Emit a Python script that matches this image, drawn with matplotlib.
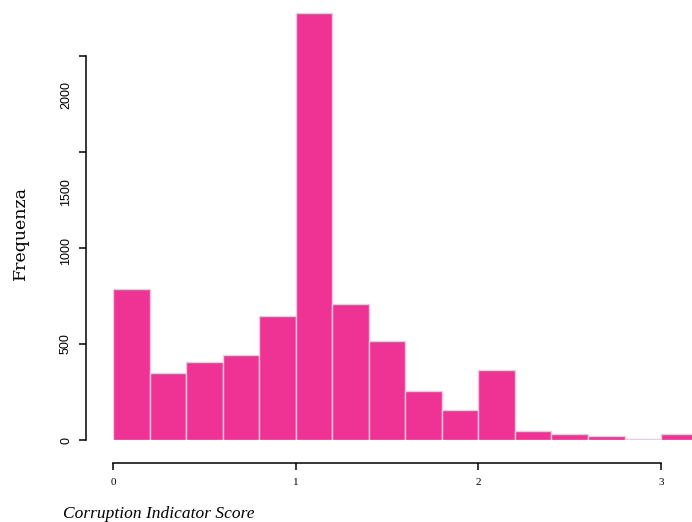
import numpy as np
import matplotlib.pyplot as plt
import matplotlib.transforms as mtransforms

# histogram data
bin_edges = [0.0, 0.2, 0.4, 0.6, 0.8, 1.0, 1.2, 1.4, 1.6, 1.8, 2.0, 2.2, 2.4, 2.6, 2.8, 3.0, 3.2]
counts = [786, 349, 406, 443, 646, 2224, 708, 516, 255, 156, 365, 48, 31, 19, 3, 31]
x_ticks = [0, 1, 2, 3]
y_ticks = [0, 500, 1000, 1500, 2000]

W, H = 692, 522
fig = plt.figure(figsize=(W / 100, H / 100), dpi=100)

# axes box in pixels: left 113, right 692, top 0, bottom 440
ax = fig.add_axes([113 / W, (H - 440) / H, (692 - 113) / W, 440 / H])

edges = np.array(bin_edges)
ax.bar(edges[:-1], counts, width=np.diff(edges), align='edge',
       color='#EE3394', edgecolor='#F7C6DE', linewidth=1.0)

ax.set_xlim(0, 579 / 182.7)
ax.set_ylim(0, 440 / 0.192)

for s in ['top', 'right']:
    ax.spines[s].set_visible(False)
ax.spines['left'].set_position(('outward', 27 * 0.72))
ax.spines['bottom'].set_position(('outward', 23 * 0.72))
ax.spines['left'].set_bounds(0, 2000)
ax.spines['bottom'].set_bounds(0, 3)
ax.spines['left'].set_linewidth(1.1)
ax.spines['bottom'].set_linewidth(1.1)

ax.set_yticks(y_ticks)
ax.set_xticks(x_ticks)
ax.tick_params(axis='both', length=5, width=1.1)
ax.set_yticklabels([])
ax.set_xticklabels([str(v) for v in x_ticks], fontfamily='Liberation Serif', fontsize=8)
ax.tick_params(axis='x', pad=6)

# y tick labels, drawn by hand because the original has them shifted (in pixels)
label_shift_px = [0, 0, -3, -40, -39]
blend = mtransforms.blended_transform_factory(fig.transFigure, ax.transData)
for v, dy in zip(y_ticks, label_shift_px):
    tr = mtransforms.offset_copy(blend, fig=fig, x=0, y=dy, units='dots')
    ax.text(66 / W, v, str(v), transform=tr, rotation=90, ha='center', va='center',
            fontfamily='Liberation Sans', fontsize=9, clip_on=False)

fig.text(20 / W, 1 - 233 / H, 'Frequenza', rotation=90, ha='center', va='center',
         fontfamily='DejaVu Serif', fontsize=12.5)
fig.text(63 / W, 1 - 514 / H, 'Corruption Indicator Score', ha='left', va='center',
         fontfamily='Liberation Serif', fontstyle='italic', fontsize=12.5)

fig.savefig('out.png', dpi=100)
